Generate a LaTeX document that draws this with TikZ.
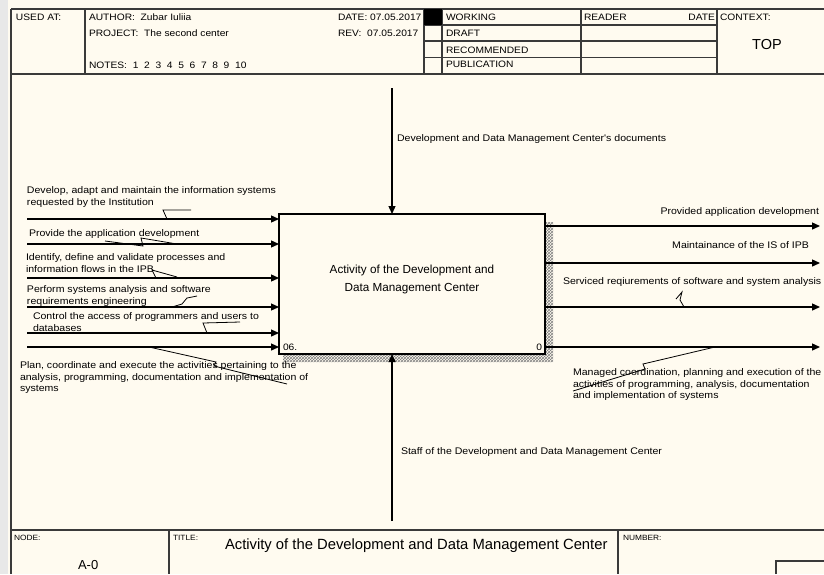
\documentclass[tikz,border=0pt]{standalone}
\usepackage{fontspec}
\setmainfont{Liberation Sans}
\newfontfamily\gdi[FakeStretch=1.1]{Liberation Sans}
\usetikzlibrary{arrows.meta,patterns}
\definecolor{paper}{RGB}{255,251,240}
\definecolor{rulegray}{RGB}{58,58,58}
\definecolor{stripgray}{RGB}{232,232,232}
\begin{document}
\begin{tikzpicture}[x=1pt,y=-1pt,
  every node/.style={inner sep=0pt,outer sep=0pt,text=black},
  frameline/.style={draw=rulegray,line width=1.3pt},
  hdr/.style={font=\gdi\fontsize{9.3}{11}\selectfont,anchor=base west},
  tiny/.style={font=\gdi\fontsize{7.6}{9}\selectfont,anchor=base west},
  lbl/.style={font=\gdi\fontsize{9.6}{11.5}\selectfont,align=left,anchor=north west},
  arr/.style={draw=black,line width=1.3pt,-{Triangle[length=8pt,width=7pt]}},
  squig/.style={draw=black,line width=0.8pt},
  actbox/.style={draw=black,line width=2.2pt,fill=paper,minimum width=266pt,minimum height=140pt},
  boxtxt/.style={font=\fontsize{11.7}{17.7}\selectfont,align=center,anchor=north}
]
% sheet
\fill[paper] (0,0) rectangle (824,574);
\useasboundingbox (0,0) rectangle (824,574);
\fill[stripgray] (0,0) rectangle (8,574);

% frame and header grid
\draw[draw=rulegray,line width=1.8pt] (11,9) -- (11,574);
\draw[frameline] (11,9) -- (824,9);
\draw[frameline] (11,74) -- (824,74);
\draw[frameline] (85,9) -- (85,74);
\draw[frameline] (424,9) -- (424,74);
\draw[frameline] (442,9) -- (442,74);
\draw[frameline] (581,9) -- (581,74);
\draw[frameline] (717,9) -- (717,74);
\foreach \yy in {25,41,57.5} \draw[frameline] (424,\yy) -- (717,\yy);
\fill[black] (424,9) rectangle (442,25);

% header texts
\node[hdr] (usedat) at (16,20) {USED AT:};
\node[hdr] (author) at (89,20) {AUTHOR:\ \ Zubar Iuliia};
\node[hdr] (project) at (89,36) {PROJECT:\ \ The second center};
\node[hdr] (notes) at (89,68) {NOTES:\ \ 1\ \ 2\ \ 3\ \ 4\ \ 5\ \ 6\ \ 7\ \ 8\ \ 9\ \ 10};
\node[hdr] (date) at (338,20) {DATE: 07.05.2017};
\node[hdr] (rev) at (338,36) {REV:\ \ 07.05.2017};
\node[hdr] (working) at (446,20) {WORKING};
\node[hdr] (draft) at (446,36) {DRAFT};
\node[hdr] (recommended) at (446,53) {RECOMMENDED};
\node[hdr] (publication) at (446,67) {PUBLICATION};
\node[hdr] (reader) at (584,20) {READER};
\node[hdr,anchor=base east] (readerdate) at (715,20) {DATE};
\node[hdr] (context) at (720,20) {CONTEXT:};
\node[font=\fontsize{14.5}{16}\selectfont,anchor=base] (top) at (767,49) {TOP};

% footer grid
\draw[frameline] (11,530) -- (824,530);
\draw[frameline] (169,530) -- (169,574);
\draw[frameline] (618,530) -- (618,574);
\draw[frameline] (776,574) -- (776,561) -- (824,561);
\node[tiny] (nodelbl) at (14,540) {NODE:};
\node[font=\fontsize{13}{15}\selectfont,anchor=base west] (nodeno) at (78,569) {A-0};
\node[tiny] (titlelbl) at (173,540) {TITLE:};
\node[font=\fontsize{14.8}{17}\selectfont,anchor=base west] (title) at (225,549) {Activity of the Development and Data Management Center};
\node[tiny] (numberlbl) at (623,540) {NUMBER:};

% activity box with its shadow
\fill[pattern=crosshatch,pattern color=gray] (545,222) -- (553,222) -- (553,362) -- (283,362) -- (283,354) -- (545,354) -- cycle;
\node[actbox] (act) at (412,284) {};
\node[boxtxt] (acttext) at (412,265) {Activity of the Development and\\Data Management Center};
\node[hdr] (num06) at (283,350) {06.};
\node[hdr,anchor=base east] (num0) at (542,350) {0};

% inputs
\coordinate (i1) at (27,219);
\coordinate (i2) at (27,244);
\coordinate (i3) at (27,278);
\coordinate (i4) at (27,307);
\coordinate (i5) at (27,333);
\coordinate (i6) at (27,347);
\foreach \c in {i1,i2,i3,i4,i5,i6} \draw[arr] (\c) -- (act.west |- \c);
\node[lbl] (in1) at (27,187) {Develop, adapt and maintain the information systems\\requested by the Institution};
\node[lbl] (in2) at (29,230) {Provide the application development};
\node[lbl] (in3) at (26,254) {Identify, define and validate processes and\\information flows in the IPB};
\node[lbl] (in4) at (27,286) {Perform systems analysis and software\\requirements engineering};
\node[lbl] (in5) at (33,313) {Control the access of programmers and users to\\databases};
\node[lbl] (in6) at (20,362) {Plan, coordinate and execute the activities pertaining to the\\analysis, programming, documentation and implementation of\\systems};
\draw[squig] (191,210) -- (163,210) -- (167,219);
\draw[squig] (105,241) -- (143,246) -- (141,238) -- (177,244);
\draw[squig] (177,277) -- (152,270) -- (156,278);
\draw[squig] (197,296) -- (187,298) -- (182,304) -- (172,307);
\draw[squig] (240,322) -- (203,323) -- (207,333);
\draw[squig] (149,347) -- (216,362) -- (214,366) -- (287,384);

% control
\coordinate (c1) at (392,88);
\draw[arr] (c1) -- (c1 |- act.north);
\node[lbl] (ctl) at (397,135) {Development and Data Management Center's documents};

% mechanism
\coordinate (m1) at (392,521);
\draw[arr] (m1) -- (m1 |- act.south);
\node[lbl] (mech) at (401,448) {Staff of the Development and Data Management Center};

% outputs
\coordinate (o1) at (820,226);
\coordinate (o2) at (820,263);
\coordinate (o3) at (820,307);
\coordinate (o4) at (820,347);
\foreach \c in {o1,o2,o3,o4} \draw[arr] (act.east |- \c) -- (\c);
\node[lbl,anchor=north east] (out1) at (819,208) {Provided application development};
\node[lbl,anchor=north east] (out2) at (809,242) {Maintainance of the IS of IPB};
\node[lbl] (out3) at (563,278) {Serviced reqiurements of software and system analysis};
\node[lbl] (out4) at (573,369) {Managed coordination, planning and execution of the\\activities of programming, analysis, documentation\\and implementation of systems};
\draw[squig] (676,299) -- (682,292) -- (680,300) -- (684,307);
\draw[squig] (715,347) -- (643,364) -- (645,369) -- (573,391);
\end{tikzpicture}
\end{document}
